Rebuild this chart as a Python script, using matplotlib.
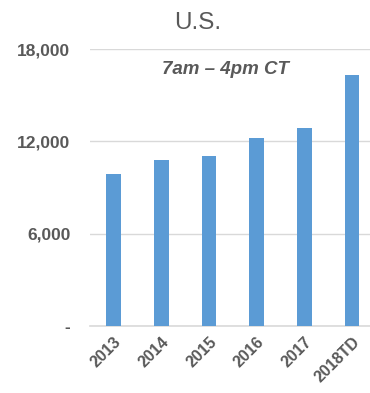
import numpy as np
import matplotlib
matplotlib.use("Agg")
import matplotlib.pyplot as plt

# data
years = ["2013", "2014", "2015", "2016", "2017", "2018TD"]
volumes = [9850, 10780, 11070, 12220, 12870, 16300]
yticks = [0, 6000, 12000, 18000]
ytick_labels = ["-", "6,000", "12,000", "18,000"]

plt.rcParams['font.family'] = ['Liberation Sans', 'DejaVu Sans']
GREY = "#595959"

fig = plt.figure(figsize=(3.7, 3.93), dpi=100)
ax = fig.add_axes([0.243, 0.1705, 0.757, 0.7045])

x = np.arange(len(years))
ax.bar(x, volumes, width=0.31, color="#5B9BD5", zorder=3)

ax.set_ylim(0, 18000)
ax.set_xlim(-0.5, 5.38)
ax.set_yticks(yticks)
ax.set_yticklabels(ytick_labels, fontsize=12.5, fontweight="bold", color=GREY)
ax.set_xticks(x)
ax.set_xticklabels(years, rotation=45, ha="right", rotation_mode="anchor",
                   fontsize=11.5, fontweight="bold", color=GREY)
ax.tick_params(axis="both", length=0)
ax.tick_params(axis="y", pad=14)
ax.tick_params(axis="x", pad=6)
ax.grid(axis="y", color="#d9d9d9", linewidth=1, zorder=0)
for s in ["top", "right", "left"]:
    ax.spines[s].set_visible(False)
ax.spines["bottom"].set_color("#d9d9d9")
ax.spines["bottom"].set_linewidth(1.2)

fig.text(0.535, 0.942, "U.S.", ha="center", va="center", fontsize=17.5, color=GREY)
ax.text(2.35, 16700, "7am \u2013 4pm CT", ha="center", va="center", fontsize=13.5,
        fontweight="bold", style="italic", color=GREY)

fig.savefig("out.png", dpi=100)
